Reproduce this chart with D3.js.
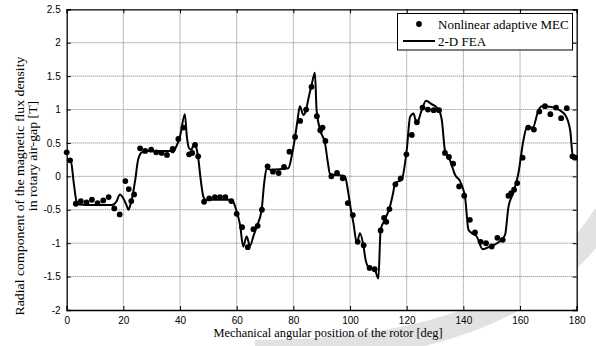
<!DOCTYPE html>
<html><head><meta charset="utf-8">
<script src="https://cdn.jsdelivr.net/npm/d3@7"></script>
<style>body{margin:0;background:#fff}svg{display:block}</style>
</head><body>
<script>
// MEC points (deg, T)
const mecDeg = [0,1.2,3.2,5.0,7.0,8.9,10.9,12.9,14.8,16.8,18.7,20.7,21.9,22.8,23.8,25.9,27.7,29.8,31.6,33.5,35.4,37.4,39.4,41.2,43.2,44.3,45.3,46.4,48.5,50.3,52.3,54.1,56.0,58.1,60.0,61.9,63.9,65.9,67.4,68.9,70.9,72.8,74.8,76.7,78.6,80.6,82.4,84.5,86.4,88.3,89.5,90.3,91.3,93.4,95.4,97.4,99.2,101.0,102.7,104.8,106.9,108.7,110.8,112.0,112.8,113.9,116.0,117.9,119.9,121.8,123.6,125.6,127.5,129.5,131.4,133.5,134.9,136.4,138.5,140.3,142.3,144.1,146.1,148.0,150.0,152.0,153.9,155.9,156.9,157.9,159.0,160.9,162.9,164.9,166.8,168.8,170.7,172.7,174.5,176.5,178.5,179.4];
const mecVal = [0.36,0.24,-0.41,-0.37,-0.39,-0.35,-0.40,-0.36,-0.31,-0.48,-0.57,-0.07,-0.19,-0.37,-0.27,0.42,0.38,0.40,0.36,0.35,0.32,0.41,0.56,0.73,0.33,0.35,0.47,0.30,-0.38,-0.33,-0.31,-0.31,-0.31,-0.37,-0.56,-0.76,-1.06,-0.79,-0.74,-0.50,0.15,0.07,0.05,0.14,0.37,0.59,0.83,1.00,1.34,0.90,0.69,0.73,0.53,0.00,0.05,-0.03,-0.40,-0.58,-0.98,-1.03,-1.37,-1.39,-0.81,-0.62,-0.68,-0.49,-0.12,-0.03,0.33,0.62,0.81,1.03,1.00,0.99,0.99,0.35,0.29,0.19,-0.15,-0.29,-0.65,-0.84,-0.98,-1.00,-1.05,-0.92,-0.95,-0.29,-0.25,-0.20,-0.10,0.28,0.73,0.70,0.97,1.05,0.93,1.03,0.87,1.02,0.30,0.28];
// FEA curve (deg, T)
const feaDeg = [0,1.5,2.5,3.5,4.5,10,16,17.5,18.8,20.0,21.0,21.8,22.5,23.2,24.2,25.2,26.5,28,36.5,37.5,38.5,40,41.7,42.4,43.2,44.0,45.0,45.8,46.5,47.3,48.2,49,58,58.8,59.8,61.2,62.3,63.5,64.7,66,67.1,68.8,69.7,70.6,72,78.2,79.4,80.6,81.5,82.3,83.5,84.3,85.5,86.5,87.6,88.2,89.5,91.2,92.2,92.9,94.7,97.5,98.2,99.4,100.3,101.2,102.4,103.5,104.7,105.5,106.4,108.8,110,110.8,112.3,114.1,115.2,115.9,118.2,120,121.2,122.4,123.5,125.3,126.8,128.8,130.6,131.8,132.4,133.5,135.3,137.1,138.8,140,140.6,141.8,143,144.7,146.8,149.4,152.3,154.7,155.9,157.6,159.4,161.2,162.4,164.5,166.5,167.7,170.6,173.6,175.9,177.7,178.6,180];
const feaVal = [0.25,0.22,-0.1,-0.38,-0.42,-0.43,-0.43,-0.38,-0.27,-0.33,-0.42,-0.50,-0.42,-0.30,-0.05,0.25,0.36,0.38,0.38,0.36,0.43,0.6,0.93,0.6,0.42,0.40,0.49,0.42,0.25,-0.05,-0.30,-0.35,-0.35,-0.38,-0.5,-0.73,-1.05,-0.90,-1.04,-0.88,-0.75,-0.5,-0.1,0.12,0.10,0.12,0.3,0.59,0.85,1.05,0.92,0.97,1.2,1.38,1.55,0.99,0.69,0.49,0.2,0.04,0.02,0.01,0.0,-0.25,-0.5,-0.70,-1.0,-0.85,-1.03,-1.25,-1.35,-1.40,-1.53,-0.80,-0.65,-0.45,-0.25,-0.10,-0.05,0.39,0.89,0.94,0.79,0.99,1.13,1.08,1.03,0.95,0.84,0.39,0.24,0.02,-0.07,-0.2,-0.31,-0.80,-0.85,-0.90,-1.09,-1.05,-0.99,-0.88,-0.46,-0.25,0.04,0.54,0.73,0.73,0.99,1.05,1.04,1.00,0.92,0.69,0.32,0.29];
const xTicks = [0,20,40,60,80,100,120,140,160,180];
const yTicks = [-2,-1.5,-1,-0.5,0,0.5,1,1.5,2,2.5];
const yTickLabels = ["-2","-1.5","-1","-0.5","0","0.5","1","1.5","2","2.5"];
const legendLabels = ["Nonlinear adaptive MEC","2-D FEA"];
const xLabel = "Mechanical angular position of the rotor [deg]";
const yLabel1 = "Radial component of the magnetic flux density";
const yLabel2 = "in rotary air-gap [T]";

const W = 596, H = 346;
const L = 66.7, R = 576.7, T = 9.3, B = 310;
const svg = d3.select("body").append("svg").attr("width", W).attr("height", H);

// faint watermark swoosh
svg.append("path").attr("d", "M 255 352 Q 520 352 605 215")
  .attr("fill","none").attr("stroke","#e2e2e2").attr("stroke-width",24);

const x = d3.scaleLinear().domain([0,180]).range([L,R]);
const y = d3.scaleLinear().domain([-2,2.5]).range([B,T]);

svg.append("rect").attr("x",L).attr("y",T).attr("width",R-L).attr("height",B-T).attr("fill","#fff");

// grid
const g = svg.append("g");
g.selectAll(".gx").data(xTicks.slice(1,-1)).join("line")
  .attr("x1",d=>x(d)).attr("x2",d=>x(d)).attr("y1",T).attr("y2",B)
  .attr("stroke","#7a7a7a").attr("stroke-width",1).attr("stroke-dasharray","1,1");
g.selectAll(".gy").data(yTicks.slice(1,-1)).join("line")
  .attr("y1",d=>y(d)).attr("y2",d=>y(d)).attr("x1",L).attr("x2",R)
  .attr("stroke","#7a7a7a").attr("stroke-width",1).attr("stroke-dasharray","1,1");

// axes
const fmtY = d => yTickLabels[yTicks.indexOf(d)];
const axB = svg.append("g").attr("transform",`translate(0,${B})`)
  .call(d3.axisBottom(x).tickValues(xTicks).tickSize(-4).tickPadding(7).tickFormat(d3.format("d")));
const axT = svg.append("g").attr("transform",`translate(0,${T})`)
  .call(d3.axisTop(x).tickValues(xTicks).tickSize(-4).tickFormat(""));
const axL = svg.append("g").attr("transform",`translate(${L},0)`)
  .call(d3.axisLeft(y).tickValues(yTicks).tickSize(-4).tickPadding(6).tickFormat(fmtY));
const axR = svg.append("g").attr("transform",`translate(${R},0)`)
  .call(d3.axisRight(y).tickValues(yTicks).tickSize(-4).tickFormat(""));
[axB,axT,axL,axR].forEach(a=>{
  a.select(".domain").attr("stroke","#000").attr("stroke-width",1.3);
  a.selectAll(".tick line").attr("stroke","#000");
  a.selectAll("text").attr("font-family","Liberation Sans, Arial, sans-serif").attr("font-size",10).attr("fill","#000");
});

// FEA line
const line = d3.line().x((d,i)=>x(feaDeg[i])).y((d,i)=>y(feaVal[i])).curve(d3.curveMonotoneX);
svg.append("path").datum(feaVal).attr("d",line).attr("fill","none").attr("stroke","#000").attr("stroke-width",2);

// MEC dots
svg.append("g").selectAll("circle").data(mecVal).join("circle")
  .attr("cx",(d,i)=>x(mecDeg[i])).attr("cy",d=>y(d)).attr("r",2.9).attr("fill","#000");

// legend
const lg = svg.append("g");
lg.append("rect").attr("x",397.5).attr("y",13.5).attr("width",175).attr("height",36.5)
  .attr("fill","#fff").attr("stroke","#000").attr("stroke-width",1);
lg.append("circle").attr("cx",419).attr("cy",24).attr("r",2.9).attr("fill","#000");
lg.append("line").attr("x1",403).attr("x2",435).attr("y1",41).attr("y2",41).attr("stroke","#000").attr("stroke-width",2);
lg.append("text").attr("x",438).attr("y",28.5).text(legendLabels[0])
  .attr("font-family","Liberation Serif, Times New Roman, serif").attr("font-size",13);
lg.append("text").attr("x",438).attr("y",45.5).text(legendLabels[1])
  .attr("font-family","Liberation Serif, Times New Roman, serif").attr("font-size",13);

// axis labels
svg.append("text").attr("x",328).attr("y",337).attr("text-anchor","middle")
  .attr("font-family","Liberation Serif, Times New Roman, serif").attr("font-size",12.4).text(xLabel);
svg.append("text").attr("transform","translate(24,186) rotate(-90) scale(1.15,1)").attr("text-anchor","middle")
  .attr("font-family","Liberation Serif, Times New Roman, serif").attr("font-size",12).text(yLabel1);
svg.append("text").attr("transform","translate(37,156) rotate(-90) scale(1.15,1)").attr("text-anchor","middle")
  .attr("font-family","Liberation Serif, Times New Roman, serif").attr("font-size",12).text(yLabel2);
</script>
</body></html>
